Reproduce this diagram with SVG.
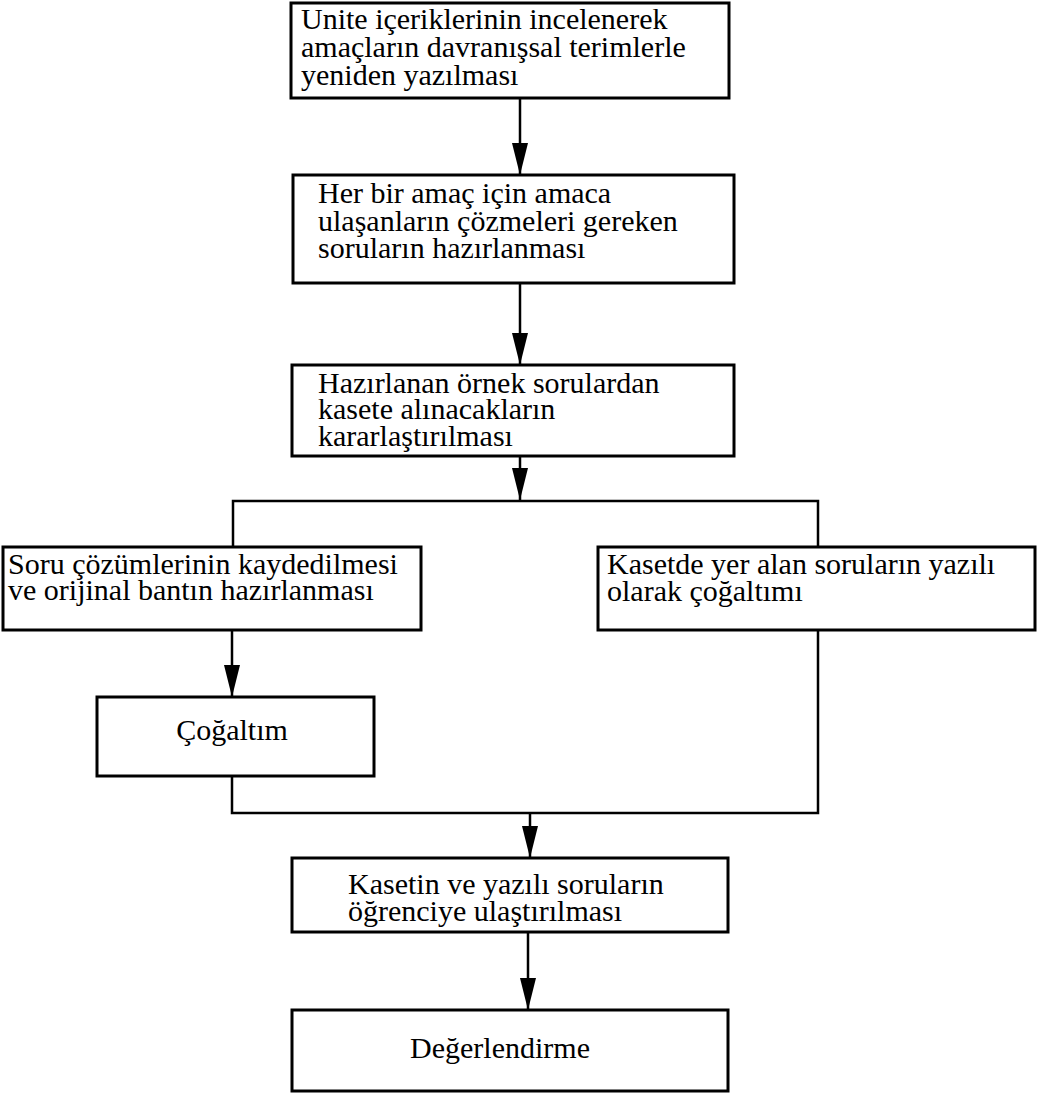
<svg xmlns="http://www.w3.org/2000/svg" width="1037" height="1096" viewBox="0 0 1037 1096">
<style>
.box{fill:#fff;stroke:#000;stroke-width:3}
.t{font-family:"Liberation Serif","Times New Roman",serif;font-size:30px;fill:#000}
.c{fill:none;stroke:#000;stroke-width:2.5}
</style>
<defs>
<marker id="ah" markerUnits="userSpaceOnUse" markerWidth="32" markerHeight="16" refX="32" refY="8" orient="auto" viewBox="0 0 32 16">
<path d="M0,0 L32,8 L0,16 Z" fill="#000"/>
</marker>
</defs>
<rect width="1037" height="1096" fill="#fff"/>
<g id="connectors">
<line class="c" x1="520" y1="98" x2="520" y2="175" marker-end="url(#ah)"/>
<line class="c" x1="520" y1="284" x2="520" y2="365" marker-end="url(#ah)"/>
<line class="c" x1="520" y1="457" x2="520" y2="500" marker-end="url(#ah)"/>
<polyline class="c" points="233,547 233,501 818,501 818,547"/>
<line class="c" x1="232" y1="631" x2="232" y2="697" marker-end="url(#ah)"/>
<polyline class="c" points="232,776 232,813 818,813 818,631"/>
<line class="c" x1="530" y1="813" x2="530" y2="858" marker-end="url(#ah)"/>
<line class="c" x1="528" y1="932" x2="528" y2="1010" marker-end="url(#ah)"/>
</g>
<g id="n1">
<rect class="box" x="291" y="3" width="438" height="95"/>
<text class="t" x="301" y="29">Unite içeriklerinin incelenerek</text>
<text class="t" x="301" y="57">amaçların davranışsal terimlerle</text>
<text class="t" x="301" y="85">yeniden yazılması</text>
</g>
<g id="n2">
<rect class="box" x="293" y="175" width="441" height="108"/>
<text class="t" x="318" y="203">Her bir amaç için amaca</text>
<text class="t" x="318" y="231">ulaşanların çözmeleri gereken</text>
<text class="t" x="318" y="258">soruların hazırlanması</text>
</g>
<g id="n3">
<rect class="box" x="292" y="365" width="442" height="91"/>
<text class="t" x="318" y="393">Hazırlanan örnek sorulardan</text>
<text class="t" x="318" y="419">kasete alınacakların</text>
<text class="t" x="318" y="446">kararlaştırılması</text>
</g>
<g id="n4">
<rect class="box" x="3" y="547" width="418" height="83"/>
<text class="t" x="8" y="574">Soru çözümlerinin kaydedilmesi</text>
<text class="t" x="8" y="600">ve orijinal bantın hazırlanması</text>
</g>
<g id="n5">
<rect class="box" x="598" y="547" width="437" height="83"/>
<text class="t" x="607" y="574">Kasetde yer alan soruların yazılı</text>
<text class="t" x="607" y="601">olarak çoğaltımı</text>
</g>
<g id="n6">
<rect class="box" x="97" y="697" width="277" height="79"/>
<text class="t" x="232" y="740" text-anchor="middle">Çoğaltım</text>
</g>
<g id="n7">
<rect class="box" x="292" y="858" width="436" height="74"/>
<text class="t" x="348" y="894">Kasetin ve yazılı soruların</text>
<text class="t" x="348" y="921">öğrenciye ulaştırılması</text>
</g>
<g id="n8">
<rect class="box" x="292" y="1010" width="436" height="81"/>
<text class="t" x="500" y="1058" text-anchor="middle">Değerlendirme</text>
</g>
</svg>
